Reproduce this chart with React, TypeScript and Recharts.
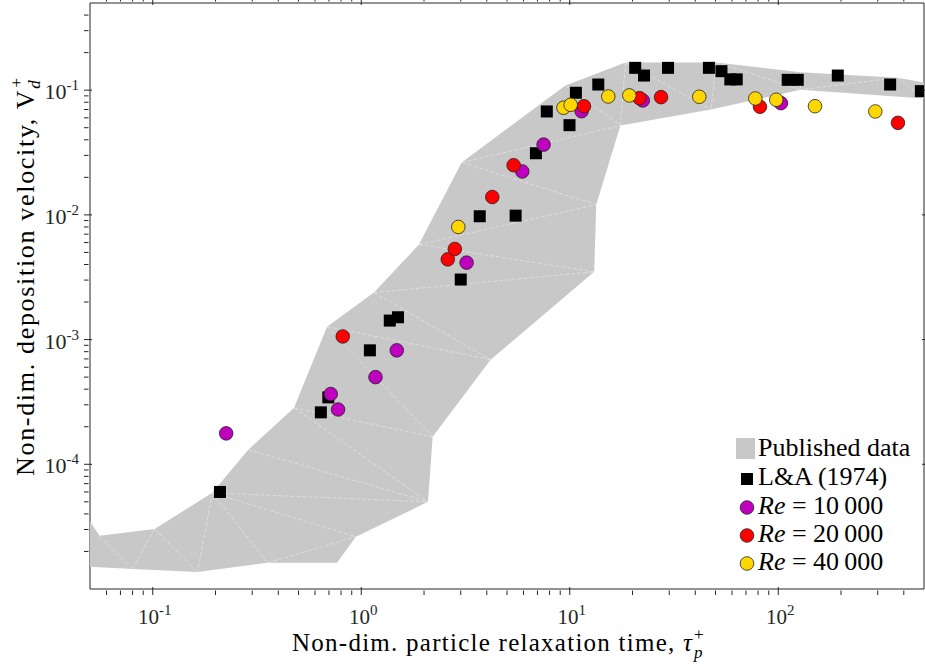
import React from "react";
import { ScatterChart, Scatter, XAxis, YAxis, Legend } from "recharts";

// tau_p+ vs V_d+ pairs
type Pair = [number, number];

// Envelope of the published data: upper edge left to right, then lower edge right to left
const publishedBand: Pair[] = [
  [0.05, 3.47e-5], [0.0556, 2.67e-5], [0.102, 3.03e-5], [0.193, 5.9e-5],
  [0.287, 1.31e-4], [0.476, 2.84e-4], [0.685, 1.27e-3], [1.15, 2.38e-3],
  [1.89, 5.78e-3], [3.03, 0.0263], [9.53, 0.109], [18.5, 0.167],
  [50.3, 0.167], [128, 0.139], [374, 0.126], [500, 0.115],
  [500, 0.0858], [128, 0.101], [47.6, 0.07], [17.5, 0.052],
  [13.4, 0.0121], [13.1, 3.5e-3], [4.17, 6.9e-4], [2.2, 1.66e-4],
  [2.09, 5.0e-5], [0.943, 2.62e-5], [0.765, 1.62e-5], [0.354, 1.62e-5],
  [0.164, 1.37e-5], [0.08, 1.45e-5], [0.05, 1.51e-5],
];

// Inner triangulation edges of the envelope (index pairs into publishedBand)
const bandMesh: [number, number][] = [
  [1, 29], [2, 29], [2, 28], [3, 28], [3, 27], [27, 25], [3, 25], [3, 24],
  [4, 24], [5, 24], [5, 23], [6, 23], [6, 22], [7, 22], [7, 21], [8, 21],
  [8, 20], [9, 20], [9, 19], [10, 19], [11, 19], [11, 18], [12, 18],
  [12, 17], [13, 17], [14, 17], [14, 16],
];

const laData: Pair[] = [
  [0.21, 6.0e-5], [0.64, 2.61e-4], [0.695, 3.44e-4], [1.1, 8.2e-4],
  [1.37, 1.42e-3], [1.5, 1.51e-3], [3.0, 3.03e-3], [3.7, 9.75e-3],
  [5.5, 9.86e-3], [6.88, 0.0312], [7.76, 0.0675], [9.97, 0.0524],
  [10.7, 0.0953], [13.7, 0.111], [20.6, 0.151], [22.7, 0.131],
  [29.6, 0.151], [46.5, 0.151], [53.4, 0.142], [58.9, 0.122],
  [63.2, 0.122], [111, 0.121], [124, 0.121], [193, 0.131],
  [344, 0.111], [483, 0.0982],
];

const re10kData: Pair[] = [
  [0.225, 1.77e-4], [0.714, 3.66e-4], [0.774, 2.75e-4], [1.17, 5.0e-4],
  [1.48, 8.2e-4], [3.2, 4.14e-3], [5.92, 0.0223], [7.49, 0.0366],
  [11.4, 0.0678], [22.4, 0.0827], [103, 0.0787],
];

const re20kData: Pair[] = [
  [0.815, 1.06e-3], [2.6, 4.4e-3], [2.81, 5.33e-3], [4.25, 0.0139],
  [5.38, 0.025], [11.7, 0.0744], [21.6, 0.0863], [27.4, 0.0879],
  [81.7, 0.0736], [375, 0.0547],
];

const re40kData: Pair[] = [
  [2.92, 8.0e-3], [9.33, 0.0723], [10.1, 0.0763], [15.3, 0.089],
  [19.3, 0.0907], [41.8, 0.0885], [77.6, 0.0858], [97.8, 0.0838],
  [150, 0.0744], [292, 0.0675],
];

const reLabels = ["10\u2009000", "20\u2009000", "40\u2009000"];
const reColors = ["#bf00bf", "#ff0000", "#ffd700"];

const xMajor = [0.1, 1, 10, 100];
const yMajor = [1e-4, 1e-3, 1e-2, 1e-1];
const minorSteps = [2, 3, 4, 5, 6, 7, 8, 9];
const xDomain: [number, number] = [0.05, 500];
const yDomain: [number, number] = [1e-5, 0.5];

// decade ticks plus 2..9 minors, strictly inside the axis range
const withMinors = (decades: number[], [lo, hi]: [number, number]) => {
  const out: number[] = [];
  [decades[0] / 10, ...decades].forEach((d) => {
    out.push(d);
    minorSteps.forEach((m) => out.push(d * m));
  });
  return out.filter((v) => v > lo * 1.001 && v < hi * 0.999);
};
const xTicks = withMinors(xMajor, xDomain);
const yTicks = withMinors(yMajor, yDomain);

const toPts = (rows: Pair[]) => rows.map(([tau, vd]) => ({ tau, vd }));
const bandPts = toPts(publishedBand);
const meshPts = toPts(bandMesh.flatMap(([a, b]) => [publishedBand[a], publishedBand[b]]));

const FONT = "'Liberation Serif', 'Times New Roman', serif";
const AXIS = "#262626";

// envelope polygon filled from the scaled outline points
const BandFill = (p: any) => {
  const pts: { x: number; y: number }[] = p.points || [];
  const d = pts.map((q, i) => `${i ? "L" : "M"}${q.x},${q.y}`).join("") + "Z";
  return <path d={d} fill="#c8c8c8" stroke="none" />;
};

const MeshLines = (p: any) => {
  const pts: { x: number; y: number }[] = p.points || [];
  let d = "";
  for (let i = 0; i + 1 < pts.length; i += 2) {
    d += `M${pts[i].x},${pts[i].y}L${pts[i + 1].x},${pts[i + 1].y}`;
  }
  return (
    <path d={d} fill="none" stroke="#ffffff" strokeWidth={0.7} strokeOpacity={0.55} strokeDasharray="4 2" />
  );
};

const NoMark = () => <g />;

const SquareMark = (p: any) => (
  <rect x={p.cx - 6} y={p.cy - 6} width={12} height={12} fill="#000" />
);

const circleMark = (fill: string) => (p: any) =>
  <circle cx={p.cx} cy={p.cy} r={6.8} fill={fill} stroke="#222" strokeWidth={0.8} />;

type Side = "bottom" | "top" | "left" | "right";

const makeTick = (side: Side) => (props: any) => {
  const { x, y, payload } = props;
  const lg = Math.log10(payload.value);
  const exp = Math.round(lg);
  const major = Math.abs(lg - exp) < 1e-6;
  const len = major ? 8 : 4.5;
  let tick;
  if (side === "bottom") tick = <line x1={x} y1={y} x2={x} y2={y - len} stroke={AXIS} />;
  else if (side === "top") tick = <line x1={x} y1={y} x2={x} y2={y + len} stroke={AXIS} />;
  else if (side === "left") tick = <line x1={x} y1={y} x2={x + len} y2={y} stroke={AXIS} />;
  else tick = <line x1={x} y1={y} x2={x - len} y2={y} stroke={AXIS} />;

  let label = null;
  if (major && side === "bottom") {
    label = (
      <text x={x + 2} y={y + 29} textAnchor="middle" fontFamily={FONT} fontSize={21} fill="#262626">
        10<tspan dy={-9} fontSize={15}>{exp}</tspan>
      </text>
    );
  } else if (major && side === "left") {
    label = (
      <text x={x - 5} y={y + 9} textAnchor="end" fontFamily={FONT} fontSize={22} fill="#262626">
        10<tspan dy={-9} fontSize={15}>{exp}</tspan>
      </text>
    );
  }
  return (
    <g>
      {tick}
      {label}
    </g>
  );
};

// x title; the p / + indices sit in their own small texts after the tau
const XTitle = () => (
  <g fontFamily={FONT} fill="#000">
    <text x={292} y={651} fontSize={25} textLength={400} lengthAdjust="spacing">
      Non-dim. particle relaxation time, <tspan fontStyle="italic">τ</tspan>
    </text>
    <text x={694} y={658} fontSize={17} fontStyle="italic">p</text>
    <text x={694} y={640} fontSize={17}>+</text>
  </g>
);

const YTitle = () => (
  <text
    x={34}
    y={277}
    transform="rotate(-90 34 277)"
    textAnchor="middle"
    fontFamily={FONT}
    fontSize={26}
    fill="#000"
    textLength={398}
    lengthAdjust="spacing"
  >
    Non-dim. deposition velocity, V
    <tspan fontStyle="italic" fontSize={17} dy={6}>d</tspan>
    <tspan fontSize={17} dx={-9} dy={-18}>+</tspan>
  </text>
);

const LegendBox = () => (
  <svg width={195} height={150} style={{ overflow: "visible" }}>
    <g fontFamily={FONT} fontSize={26} fill="#000">
      <rect x={6} y={8} width={19} height={21} fill="#c8c8c8" />
      <text x={28} y={26}>Published data</text>
      <rect x={11} y={43} width={12} height={12} fill="#000" />
      <text x={28} y={55}>L&amp;A (1974)</text>
      {reLabels.map((lab, i) => (
        <g key={lab}>
          <circle cx={17} cy={77.5 + i * 28} r={6.8} fill={reColors[i]} stroke="#222" strokeWidth={0.8} />
          <text x={28} y={84 + i * 28}>
            <tspan fontStyle="italic">Re</tspan> = {lab}
          </text>
        </g>
      ))}
    </g>
  </svg>
);

export default function App() {
  return (
    <div style={{ position: "absolute", left: 0, top: 0, width: 925, height: 667, background: "#fff" }}>
      <ScatterChart width={925} height={667} margin={{ top: 0, right: 0, bottom: 0, left: 0 }}>
        <XAxis
          xAxisId="b"
          dataKey="tau"
          type="number"
          scale="log"
          domain={xDomain}
          allowDataOverflow
          ticks={xTicks}
          interval={0}
          height={78}
          tickLine={false}
          tickMargin={0}
          axisLine={{ stroke: AXIS }}
          tick={makeTick("bottom")}
          label={{ content: XTitle }}
        />
        <XAxis
          xAxisId="t"
          orientation="top"
          dataKey="tau"
          type="number"
          scale="log"
          domain={xDomain}
          allowDataOverflow
          ticks={xTicks}
          interval={0}
          height={3}
          tickLine={false}
          tickMargin={0}
          axisLine={{ stroke: AXIS }}
          tick={makeTick("top")}
        />
        <YAxis
          yAxisId="l"
          dataKey="vd"
          type="number"
          scale="log"
          domain={yDomain}
          allowDataOverflow
          ticks={yTicks}
          interval={0}
          width={90}
          tickLine={false}
          tickMargin={0}
          axisLine={{ stroke: AXIS }}
          tick={makeTick("left")}
          label={{ content: YTitle }}
        />
        <YAxis
          yAxisId="r"
          orientation="right"
          dataKey="vd"
          type="number"
          scale="log"
          domain={yDomain}
          allowDataOverflow
          ticks={yTicks}
          interval={0}
          width={1}
          tickLine={false}
          tickMargin={0}
          axisLine={{ stroke: AXIS }}
          tick={makeTick("right")}
        />

        <Scatter
          xAxisId="b"
          yAxisId="l"
          data={bandPts}
          shape={NoMark}
          line={BandFill}
          isAnimationActive={false}
          legendType="none"
        />
        <Scatter
          xAxisId="b"
          yAxisId="l"
          data={meshPts}
          shape={NoMark}
          line={MeshLines}
          isAnimationActive={false}
          legendType="none"
        />
        <Scatter xAxisId="t" yAxisId="r" data={bandPts} shape={NoMark} isAnimationActive={false} legendType="none" />
        <Scatter xAxisId="b" yAxisId="l" data={toPts(laData)} shape={SquareMark} isAnimationActive={false} />
        <Scatter xAxisId="b" yAxisId="l" data={toPts(re10kData)} shape={circleMark(reColors[0])} isAnimationActive={false} />
        <Scatter xAxisId="b" yAxisId="l" data={toPts(re20kData)} shape={circleMark(reColors[1])} isAnimationActive={false} />
        <Scatter xAxisId="b" yAxisId="l" data={toPts(re40kData)} shape={circleMark(reColors[2])} isAnimationActive={false} />

        <Legend
          layout="vertical"
          align="center"
          verticalAlign="middle"
          content={LegendBox}
          wrapperStyle={{ position: "absolute", left: 730, top: 430, width: 195, height: 150 }}
        />
      </ScatterChart>
    </div>
  );
}
